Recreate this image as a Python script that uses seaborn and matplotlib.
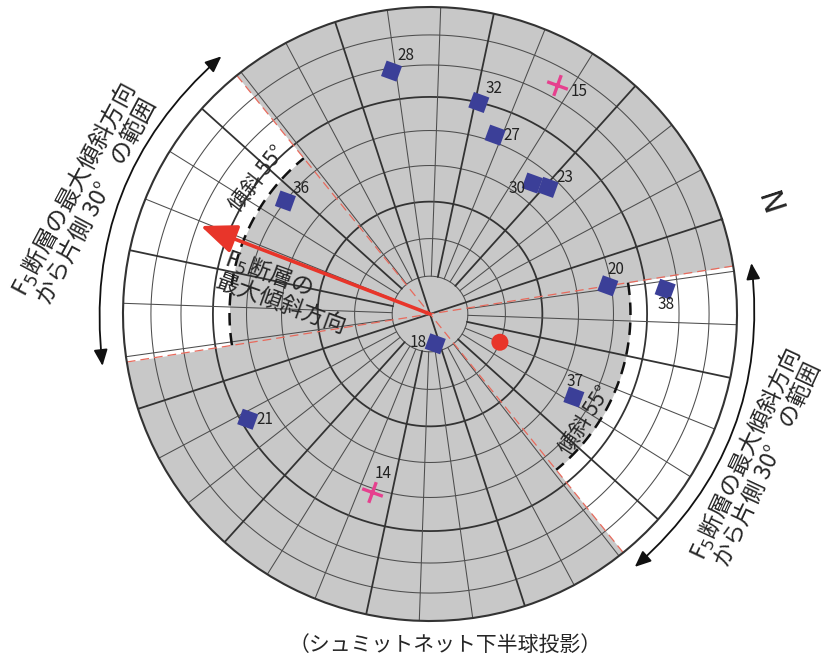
import numpy as np
import seaborn as sns
import matplotlib.pyplot as plt
from matplotlib.markers import MarkerStyle
from matplotlib.transforms import Affine2D

# poles: azimuth (deg from N, clockwise) and dip (deg)
SQ_LABELS = ["28", "32", "27", "30", "23", "36", "20", "38", "18", "37", "21"]
SQ_AZ = [279, 301, 308, 326, 331, 236, 9, 12, 98, 48, 168]
SQ_DIP = [69, 60, 52, 45, 47, 50, 49, 66, 8, 45, 58]

CROSS_LABELS = ["15", "14"]
CROSS_AZ = [317, 126]
CROSS_DIP = [74, 51]

DOT_AZ = [40]
DOT_DIP = [20]

FAULT_DIPDIR = 219
FAULT_DIP = 55
SPREAD = 30
NORTH_ROT = 18  # N drawn at this screen angle (deg, ccw from +x)

GRAY = "#c8c8c8"
BLUE = "#3b3f98"
MAGENTA = "#e6408e"
RED = "#e8352a"


def rho(dip):
    # Schmidt (equal-area) radius, 1 at the primitive
    return np.sqrt(2) * np.sin(np.deg2rad(np.asarray(dip, float)) / 2)


def th(az):
    return np.deg2rad(np.asarray(az, float))


sns.set_style("white")
plt.rcParams["font.family"] = ["Noto Sans CJK JP", "DejaVu Sans"]

fig = plt.figure(figsize=(8.29, 6.69), dpi=100)
ax = fig.add_axes([123 / 829, 48 / 669, 614 / 829, 614 / 669], projection="polar")
ax.set_theta_offset(np.deg2rad(NORTH_ROT))
ax.set_theta_direction(-1)
ax.set_facecolor(GRAY)
ax.grid(False)
ax.set_xticks([])
ax.set_yticks([])
ax.spines["polar"].set_linewidth(1.5)
ax.spines["polar"].set_color("#333333")

# white wedges: +-30 deg around the dip direction, outside the 55 deg circle
r55 = rho(FAULT_DIP)
for c in (FAULT_DIPDIR, FAULT_DIPDIR - 180):
    t = th(np.linspace(c - SPREAD, c + SPREAD, 121))
    ax.fill_between(t, r55, 1, color="white", lw=0, zorder=0.5)
    ax.plot(t, np.full_like(t, r55), color="#111111", lw=1.8, ls=(0, (5, 3)), zorder=3)

# polar net grid
full = np.linspace(0, 2 * np.pi, 721)
for d in range(10, 90, 10):
    thick = d % 30 == 0
    ax.plot(full, np.full_like(full, rho(d)), color="#333333" if thick else "#4d4d4d",
            lw=1.3 if thick else 0.75, zorder=1)
for az in range(0, 360, 10):
    thick = az % 30 == 0
    r0 = 0 if az % 90 == 0 else rho(10)
    ax.plot(th([az, az]), [r0, 1], color="#333333" if thick else "#4d4d4d",
            lw=1.3 if thick else 0.75, zorder=1)

# red dashed wedge edges (through the centre)
for e in (FAULT_DIPDIR - SPREAD, FAULT_DIPDIR + SPREAD):
    ax.plot(th([e, e, e + 180, e + 180]), [1, 0, 0, 1], color="#e86a5c", lw=0.9,
            ls=(0, (7, 4)), zorder=2)

# max dip direction arrow
ax.annotate("", xy=(th(FAULT_DIPDIR), 0.80), xytext=(th(FAULT_DIPDIR), 0),
            arrowprops=dict(arrowstyle="-|>,head_length=1.1,head_width=0.45",
                            mutation_scale=20, color=RED, lw=2.6, shrinkA=0, shrinkB=0),
            zorder=4)

# points
sq_marker = MarkerStyle("s", transform=Affine2D().rotate_deg(-20))
sns.scatterplot(x=th(SQ_AZ), y=rho(SQ_DIP), ax=ax, marker=sq_marker, s=140,
                color=BLUE, edgecolor="none", legend=False, zorder=6)
plus_marker = MarkerStyle("+", transform=Affine2D().rotate_deg(-20))
sns.scatterplot(x=th(CROSS_AZ), y=rho(CROSS_DIP), ax=ax, marker=plus_marker, s=250,
                color=MAGENTA, linewidth=2.4, legend=False, zorder=6)
sns.scatterplot(x=th(DOT_AZ), y=rho(DOT_DIP), ax=ax, marker="o", s=150,
                color=RED, edgecolor="none", legend=False, zorder=6)

label_pos = {
    "28": ((4, 5), "left", "bottom"),
    "32": ((5, 4), "left", "bottom"),
    "27": ((6, 0), "left", "center"),
    "30": ((-5, -4), "right", "center"),
    "23": ((6, 1), "left", "bottom"),
    "36": ((5, 3), "left", "bottom"),
    "20": ((0, 6), "left", "bottom"),
    "38": ((1, -5), "center", "top"),
    "18": ((-6, 1), "right", "center"),
    "37": ((1, 5), "center", "bottom"),
    "21": ((6, 0), "left", "center"),
    "15": ((10, -4), "left", "center"),
    "14": ((2, 7), "left", "bottom"),
}
for labels, azs, dips in ((SQ_LABELS, SQ_AZ, SQ_DIP), (CROSS_LABELS, CROSS_AZ, CROSS_DIP)):
    for lab, a, d in zip(labels, azs, dips):
        off, ha, va = label_pos[lab]
        ax.annotate(lab, (th(a), rho(d)), xytext=off, textcoords="offset points",
                    ha=ha, va=va, fontsize=11, color="#222222", zorder=7)

# range arcs outside the net
arc_kw = dict(arrowstyle="<|-|>,head_length=0.7,head_width=0.3", mutation_scale=14,
              color="#111111", lw=1.3, shrinkA=0, shrinkB=0)
ax.annotate("", xy=(th(FAULT_DIPDIR - SPREAD), 1.08), xytext=(th(FAULT_DIPDIR + SPREAD), 1.08),
            arrowprops=dict(connectionstyle="arc3,rad=0.26", **arc_kw), annotation_clip=False)
ax.annotate("", xy=(th(FAULT_DIPDIR - 180 + SPREAD), 1.06), xytext=(th(FAULT_DIPDIR - 180 - SPREAD), 1.06),
            arrowprops=dict(connectionstyle="arc3,rad=-0.26", **arc_kw), annotation_clip=False)

side_text = "F$_5$断層の最大傾斜方向\nから片側 30°　の範囲"
ax.text(th(217), 1.19, side_text, rotation=62, ha="center", va="center",
        multialignment="center", fontsize=17, rotation_mode="anchor", linespacing=1.05)
ax.text(th(42), 1.16, side_text, rotation=65, ha="center", va="center",
        multialignment="center", fontsize=16.5, rotation_mode="anchor", linespacing=1.05)

ax.text(th(236), 0.715, "傾斜 55°", rotation=52, ha="center", va="center",
        fontsize=15, rotation_mode="anchor", zorder=7)
ax.text(th(52.4), 0.612, "傾斜 55°", rotation=57, ha="center", va="center",
        fontsize=15, rotation_mode="anchor", zorder=7)

ax.text(th(207), 0.475, "F$_5$断層の\n最大傾斜方向", rotation=-20, ha="center", va="center",
        multialignment="left", fontsize=16.5, rotation_mode="anchor", linespacing=1.0, zorder=7)

ax.text(0, 1.16, "N", rotation=NORTH_ROT - 90, ha="center", va="center", fontsize=22,
        family="DejaVu Sans")

ax.set_ylim(0, 1)

fig.text(445 / 829, 1 - 645 / 669, "（シュミットネット下半球投影）", ha="center", va="center",
         fontsize=15)

fig.savefig("out.png", dpi=100)
